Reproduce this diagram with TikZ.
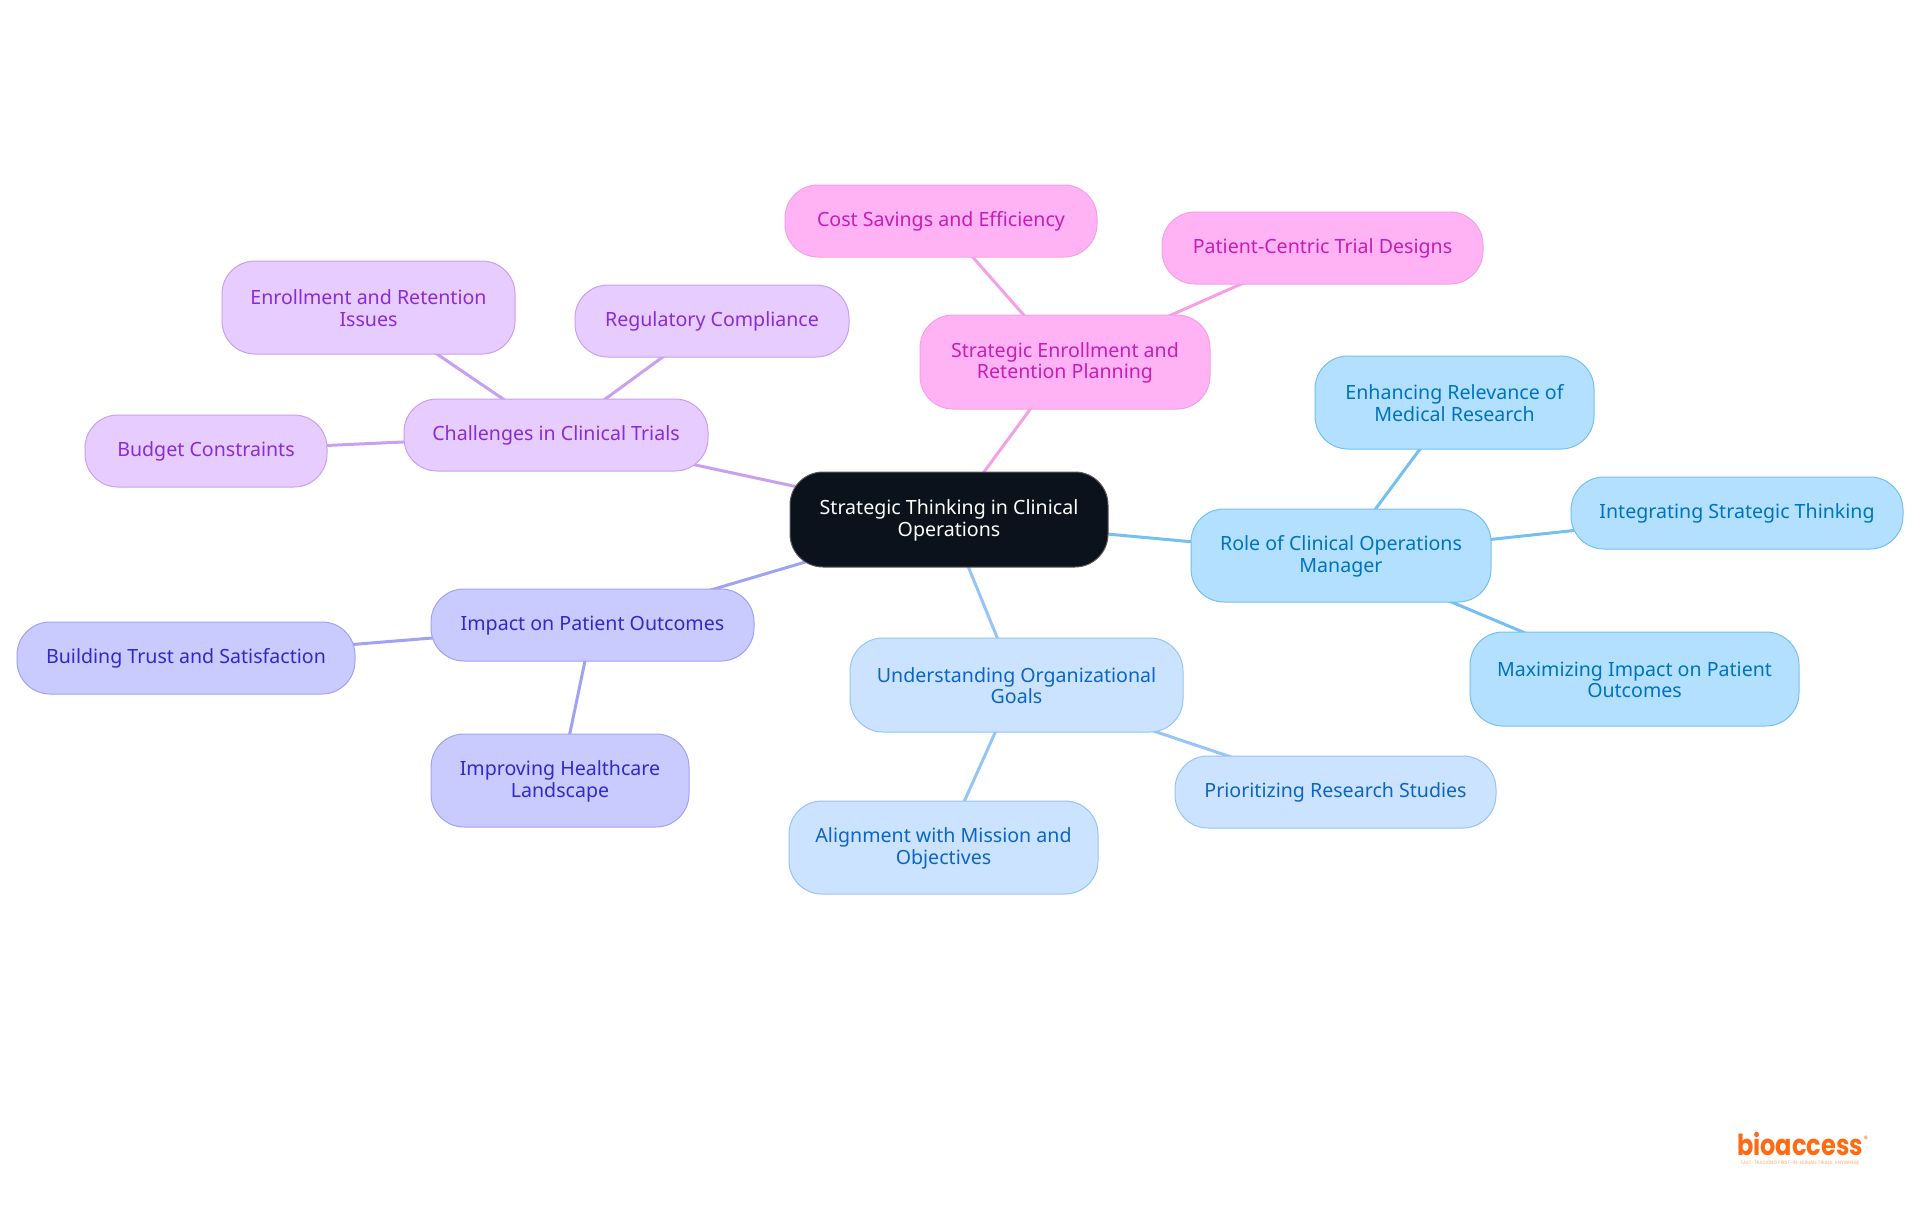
\documentclass[tikz,border=0pt]{standalone}
\usepackage{fontspec}
\setmainfont{Noto Sans}
\newfontfamily\logofont{Poppins}
\usetikzlibrary{backgrounds}
\definecolor{pinkfill}{HTML}{FFB3F5}\definecolor{pinkline}{HTML}{F5A0E6}\definecolor{pinktext}{HTML}{C71DB4}
\definecolor{skyfill}{HTML}{B3E0FF}\definecolor{skyline}{HTML}{75BFF2}\definecolor{skytext}{HTML}{0073BF}
\definecolor{bluefill}{HTML}{CCE3FF}\definecolor{blueline}{HTML}{96C4F5}\definecolor{bluetext}{HTML}{0B65C4}
\definecolor{indfill}{HTML}{C9CBFF}\definecolor{indline}{HTML}{A0A2F5}\definecolor{indtext}{HTML}{2F2AC8}
\definecolor{purfill}{HTML}{E6CCFF}\definecolor{purline}{HTML}{C99FF0}\definecolor{purtext}{HTML}{8A2BD8}
\definecolor{rootfill}{HTML}{0B121B}\definecolor{logoorange}{HTML}{FF6A13}\definecolor{taglineorange}{HTML}{FFA878}
\tikzset{x=1pt,y=-1pt,
 box/.style={rounded corners=33pt,line width=1pt,align=center,inner sep=0pt,
   font=\fontsize{19.6}{21.5}\selectfont},
 pinkbox/.style={box,fill=pinkfill,draw=pinkline,text=pinktext},
 skybox/.style={box,fill=skyfill,draw=skyline,text=skytext},
 bluebox/.style={box,fill=bluefill,draw=blueline,text=bluetext},
 indbox/.style={box,fill=indfill,draw=indline,text=indtext},
 purbox/.style={box,fill=purfill,draw=purline,text=purtext},
 rootbox/.style={box,fill=rootfill,draw=gray!70!black,text=white},
 link/.style={line width=3pt}}
\newcommand{\mnode}[7]{\node[#1,minimum width=#4pt-#2pt,minimum height=#5pt-#3pt] (#6) at ({(#2+#4)/2},{(#3+#5)/2}) {\rule{0pt}{16.5pt}#7};}
\begin{document}
\begin{tikzpicture}
\useasboundingbox (0,0) rectangle (1920,1215);
\mnode{rootbox}{790}{472}{1108}{567}{root}{Strategic Thinking in Clinical\\Operations}
\mnode{pinkbox}{920}{315}{1210}{409}{enroll}{Strategic Enrollment and\\Retention Planning}
\mnode{pinkbox}{785}{185}{1097}{257}{cost}{Cost Savings and Efficiency}
\mnode{pinkbox}{1162}{212}{1483}{284}{centric}{Patient-Centric Trial Designs}
\mnode{skybox}{1191}{509}{1491}{602}{role}{Role of Clinical Operations\\Manager}
\mnode{skybox}{1315}{356}{1594}{449}{relev}{Enhancing Relevance of\\Medical Research}
\mnode{skybox}{1571}{477}{1903}{549}{integ}{Integrating Strategic Thinking}
\mnode{skybox}{1470}{632}{1799}{726}{maxim}{Maximizing Impact on Patient\\Outcomes}
\mnode{bluebox}{850}{638}{1183}{732}{goals}{Understanding Organizational\\Goals}
\mnode{bluebox}{1175}{756}{1496}{828}{prior}{Prioritizing Research Studies}
\mnode{bluebox}{789}{801}{1098}{894}{align}{Alignment with Mission and\\Objectives}
\mnode{indbox}{431}{589}{754}{661}{impact}{Impact on Patient Outcomes}
\mnode{indbox}{17}{622}{355}{694}{trust}{Building Trust and Satisfaction}
\mnode{indbox}{431}{734}{689}{827}{health}{Improving Healthcare\\Landscape}
\mnode{purbox}{404}{399}{708}{471}{chall}{Challenges in Clinical Trials}
\mnode{purbox}{85}{415}{327}{487}{budget}{Budget Constraints}
\mnode{purbox}{222}{261}{515}{354}{issues}{Enrollment and Retention\\Issues}
\mnode{purbox}{575}{285}{849}{357}{regul}{Regulatory Compliance}
\node[inner sep=0pt,anchor=base,xscale=.83,text=logoorange,font=\logofont\bfseries\fontsize{29}{29}\selectfont] (logo) at (1800,1155) {bioaccess};
\node[inner sep=0pt,text=logoorange,font=\logofont\fontsize{9}{9}\selectfont] (reg) at (1866,1139) {®};
\node[inner sep=0pt,text=taglineorange,font=\logofont\fontsize{4.7}{5}\selectfont] (tag) at (1800,1163.5) {FAST-TRACKING FIRST-IN-HUMAN TRIALS, ANYWHERE};
\begin{pgfonlayer}{background}
\draw[link,pinkline] (root.center)--(enroll.center) (enroll.center)--(cost.center) (enroll.center)--(centric.center);
\draw[link,skyline] (root.center)--(role.center) (role.center)--(relev.center) (role.center)--(integ.center) (role.center)--(maxim.center);
\draw[link,blueline] (root.center)--(goals.center) (goals.center)--(prior.center) (goals.center)--(align.center);
\draw[link,indline] (root.center)--(impact.center) (impact.center)--(trust.center) (impact.center)--(health.center);
\draw[link,purline] (root.center)--(chall.center) (chall.center)--(budget.center) (chall.center)--(issues.center) (chall.center)--(regul.center);
\end{pgfonlayer}
\end{tikzpicture}
\end{document}
